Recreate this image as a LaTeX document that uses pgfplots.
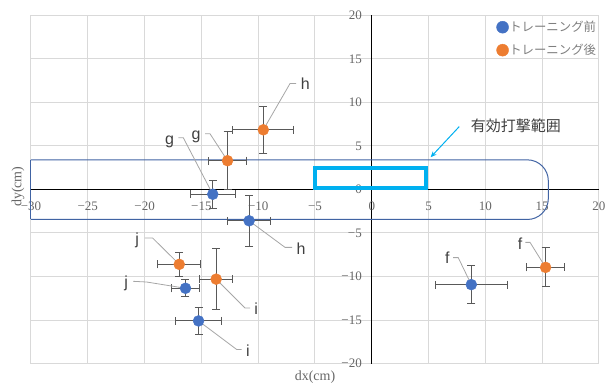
\documentclass[border=0pt]{standalone}
\usepackage{pgfplots}
\pgfplotsset{compat=1.18}
\usepackage{pgfplotstable}
\usepackage{fontspec}
\setmainfont{Liberation Serif}
\newfontfamily\jp{Noto Sans CJK JP}
\newfontfamily\lab{Liberation Sans}
\usetikzlibrary{arrows.meta}
\definecolor{bluec}{HTML}{4472C4}
\definecolor{orangec}{HTML}{ED7D31}
\definecolor{gridc}{HTML}{D9D9D9}
\definecolor{tickc}{HTML}{666666}
\definecolor{legc}{HTML}{7F7F7F}
\definecolor{ebc}{HTML}{595959}
\definecolor{leadc}{HTML}{A6A6A6}
\definecolor{labc}{HTML}{404040}
\definecolor{boxc}{HTML}{4063A3}
\definecolor{cyanc}{HTML}{00B0F0}

\pgfplotstableread{
x y ex ey
8.76 -10.93 3.15 2.15
-14.0 -0.55 2.0 1.6
-10.8 -3.6 1.9 2.9
-15.25 -15.1 2.0 1.6
-16.4 -11.35 1.25 1.0
}\before
\pgfplotstableread{
x y ex ey
15.3 -8.95 1.7 2.25
-12.7 3.3 1.7 3.3
-9.55 6.85 2.7 2.7
-13.7 -10.3 1.45 3.5
-16.95 -8.6 1.9 1.4
}\after

\begin{document}
\begin{tikzpicture}
\useasboundingbox (-31pt,-19.7pt) rectangle (575pt,363.6pt);
\begin{axis}[
  scale only axis, width=568pt, height=348.3pt,
  xmin=-30, xmax=20, ymin=-20, ymax=20,
  axis lines=middle,
  axis line style={-, black, line width=1pt},
  hide obscured x ticks=false, hide obscured y ticks=false,
  xtick={-30,-25,...,20}, ytick={-20,-15,...,20},
  xticklabels={−30,−25,−20,−15,−10,−5,0,5,10,15,20},
  yticklabels={−20,−15,−10,−5,0,5,10,15,20},
  major tick length=0pt,
  grid=major, grid style={draw=gridc, line width=1pt},
  tick label style={font=\fontsize{13}{13}\selectfont, text=tickc},
  xticklabel style={yshift=-9pt},
  yticklabel style={xshift=-6.5pt},
  xlabel={dx(cm)}, ylabel={dy(cm)},
  every axis x label/.style={at={(rel axis cs:0.5,-0.0388)}, anchor=center, font=\fontsize{14}{14}\selectfont, text=tickc},
  every axis y label/.style={at={(rel axis cs:-0.0229,0.508)}, rotate=90, anchor=center, font=\fontsize{14}{14}\selectfont, text=tickc},
  clip=false,
  error bars/x dir=both, error bars/y dir=both,
  error bars/x explicit, error bars/y explicit,
  error bars/error bar style={line width=1pt, color=ebc},
  error bars/error mark options={rotate=90, mark size=4pt, line width=1pt, color=ebc},
  legend style={at={(rel axis cs:0.8190,0.985)}, anchor=north west, draw=none, fill=none,
    font=\jp\fontsize{12.4}{14}\selectfont, text=legc, row sep=10pt, inner sep=0pt,
    nodes={inner sep=0.5pt}},
  legend cell align=left,
  legend image code/.code={\fill[#1] (0pt,0pt) circle (6pt);},
]
% effective range shapes
\draw[boxc, line width=1pt, rounded corners=21pt] (axis cs:-30,3.4) -- (axis cs:15.54,3.4)
  -- (axis cs:15.54,-3.45) -- (axis cs:-30,-3.45);
\draw[boxc, line width=1pt] (axis cs:-30,3.4) -- (axis cs:-30,-3.45);
\draw[cyanc, line width=4pt] (axis cs:-4.97,0.2) rectangle (axis cs:4.77,2.43);
\draw[cyanc, line width=1pt, -{Stealth[length=6pt,width=5pt]}] (axis cs:7.70,7.22) -- (axis cs:5.18,3.70);
\node[font=\jp\fontsize{15}{15}\selectfont, text=labc, anchor=center] at (axis cs:12.68,7.28) {有効打撃範囲};

\addplot[only marks, mark=*, mark size=5.5pt, color=bluec]
  table[x=x, y=y, x error=ex, y error=ey] {\before};
\addlegendentry{トレーニング前}
\addplot[only marks, mark=*, mark size=5.5pt, color=orangec]
  table[x=x, y=y, x error=ex, y error=ey] {\after};
\addlegendentry{トレーニング後}

% leader lines
\draw[leadc, line width=0.8pt] (axis cs:-17.03,5.93) -- (axis cs:-16.59,5.93) -- (axis cs:-14.0,-0.55);
\draw[leadc, line width=0.8pt] (axis cs:-14.68,6.39) -- (axis cs:-14.24,6.39) -- (axis cs:-12.7,3.3);
\draw[leadc, line width=0.8pt] (axis cs:-9.55,6.85) -- (axis cs:-7.20,12.16) -- (axis cs:-6.67,12.16);
\draw[leadc, line width=0.8pt] (axis cs:-10.8,-3.6) -- (axis cs:-7.64,-6.65) -- (axis cs:-7.02,-6.65);
\draw[leadc, line width=0.8pt] (axis cs:-19.97,-5.58) -- (axis cs:-19.29,-5.58) -- (axis cs:-16.95,-8.6);
\draw[leadc, line width=0.8pt] (axis cs:-21.0,-10.55) -- (axis cs:-19.82,-10.63) -- (axis cs:-16.4,-11.35);
\draw[leadc, line width=0.8pt] (axis cs:-13.7,-10.3) -- (axis cs:-11.16,-13.61) -- (axis cs:-10.72,-13.61);
\draw[leadc, line width=0.8pt] (axis cs:-15.25,-15.1) -- (axis cs:-11.89,-18.38) -- (axis cs:-11.45,-18.38);
\draw[leadc, line width=0.8pt] (axis cs:7.17,-7.83) -- (axis cs:7.61,-7.83) -- (axis cs:8.76,-10.93);
\draw[leadc, line width=0.8pt] (axis cs:13.51,-6.08) -- (axis cs:13.93,-6.08) -- (axis cs:15.3,-8.95);

% labels
\tikzset{lbl/.style={font=\lab\fontsize{16}{16}\selectfont, text=labc, inner sep=0pt, anchor=center}}
\node[lbl] at (axis cs:-17.81,5.42) {g};
\node[lbl] at (axis cs:-15.46,6.08) {g};
\node[lbl] at (axis cs:-5.86,12.16) {h};
\node[lbl] at (axis cs:-6.23,-6.77) {h};
\node[lbl] at (axis cs:-20.65,-5.85) {j};
\node[lbl] at (axis cs:-21.62,-10.81) {j};
\node[lbl] at (axis cs:-10.18,-13.73) {i};
\node[lbl] at (axis cs:-10.90,-18.5) {i};
\node[lbl] at (axis cs:6.64,-7.89) {f};
\node[lbl] at (axis cs:13.05,-6.23) {f};
\end{axis}
\end{tikzpicture}
\end{document}
